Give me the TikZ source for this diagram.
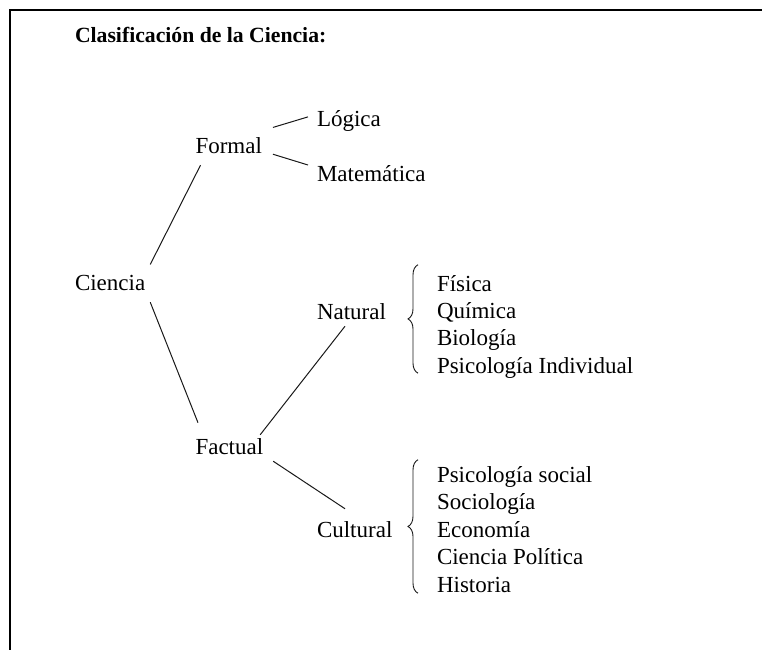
\documentclass[tikz,border=0pt]{standalone}
\usepackage{fontspec}
\setmainfont{Liberation Serif}
\usetikzlibrary{decorations.pathreplacing}

\begin{document}
\begin{tikzpicture}[x=1pt,y=-1pt,
    word/.style={anchor=base west, inner sep=0pt, outer sep=0pt, font=\fontsize{23}{27}\selectfont},
    branch/.style={line width=1pt, draw=black!90},
    curly/.style={decoration={brace, amplitude=10pt}, decorate, line width=0.9pt, draw=black!90},
  ]
  \useasboundingbox (0,0) rectangle (762,650);
  \draw [line width=2pt] (762,10.5) -- (9.5,10.5) -- (9.5,650);

  \node [word, font=\fontsize{21.7}{26}\selectfont\bfseries] (Titulo) at (75,43) {Clasificación de la Ciencia:};

  \node [word] (Ciencia) at (75,290.5) {Ciencia};
  \node [word] (Formal) at (195.5,153) {Formal};
  \node [word] (Logica) at (317,126) {Lógica};
  \node [word] (Mate) at (317,181) {Matemática};
  \node [word] (Factual) at (195.5,454) {Factual};
  \node [word] (Natural) at (317,319) {Natural};
  \node [word] (Cultural) at (317,537) {Cultural};

  \foreach \materia [count=\i] in {Física, Química, Biología, Psicología Individual}
    \node [word] (nat\i) at (437,{291+27.4*(\i-1)}) {\materia};
  \foreach \materia [count=\i] in {Psicología social, Sociología, Economía, Ciencia Política, Historia}
    \node [word] (cul\i) at (437,{482+27.5*(\i-1)}) {\materia};

  \draw [branch] ([xshift=5pt,yshift=10.8pt]Ciencia.north east) -- ([xshift=5pt,yshift=-12pt]Formal.south west);
  \draw [branch] ([xshift=5pt,yshift=-11.5pt]Ciencia.south east) -- ([xshift=2.5pt,yshift=15.3pt]Factual.north west);
  \draw [branch] ([xshift=11pt,yshift=9.6pt]Formal.north east) -- ([xshift=-9pt,yshift=3.6pt]Logica.west);
  \draw [branch] ([xshift=11pt,yshift=-1pt]Formal.south east) -- ([xshift=-9pt]Mate.north west);
  \draw [branch] ([xshift=-3pt,yshift=3.3pt]Factual.north east) -- ([xshift=28pt,yshift=-7pt]Natural.south west);
  \draw [branch] ([xshift=10pt,yshift=-7pt]Factual.south east) -- ([xshift=28pt,yshift=12.3pt]Cultural.north west);

  \draw [curly] ([xshift=-19pt,yshift=5pt]nat4.south west) -- ([xshift=-19pt,yshift=10.3pt]nat1.north west);
  \draw [curly] ([xshift=-19pt,yshift=-1pt]cul5.south west) -- ([xshift=-19pt,yshift=6.3pt]cul1.north west);
\end{tikzpicture}
\end{document}
